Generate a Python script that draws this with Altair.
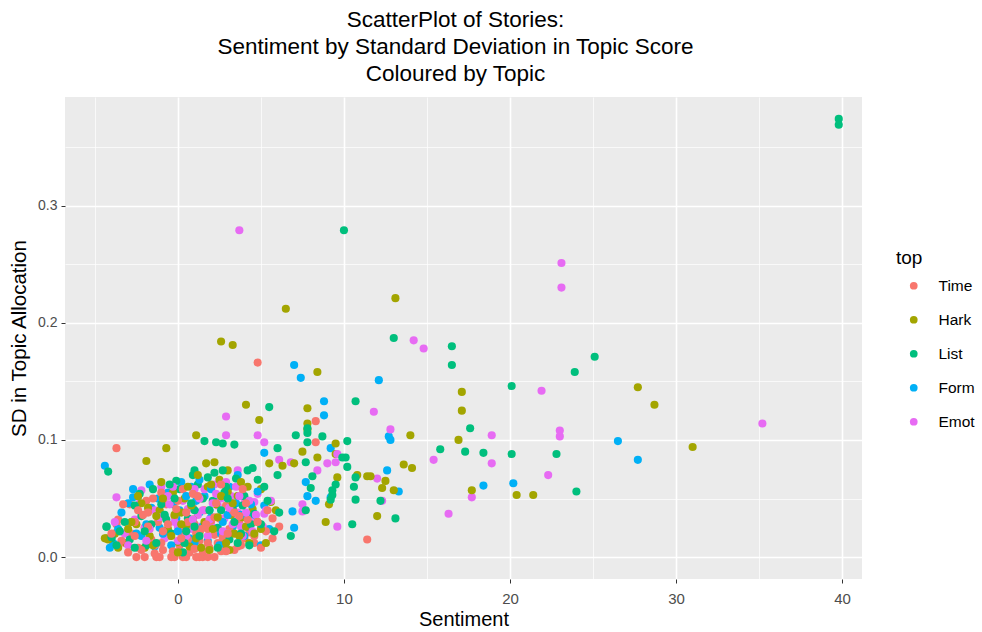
import altair as alt
import pandas as pd

# ---------------- data (Sentiment, SD in Topic Allocation) per topic ----------------
time_x = [4.8, 8.3, 8.3, -3.7, 11.4, -2.9, -1.9, -3.6, -3.7, 5.7, 6.1, 5.7,
          -2.5, -2.0, -1.3, -1.1, -0.4, -0.2, 0.3, 0.5, 1.1, 1.3, 1.5, 1.8, 2.2,
          -3.2, -2.8, -2.4, -2.0, -1.6, -1.2, -0.9, -0.5, -0.2, 0.1, 0.4, 0.7, 1.0, 1.3,
          1.6, 1.9, 2.2, 2.5, 2.8, 3.1, 3.4, 3.7, 4.0, 4.3, -1.8, -0.7, 0.2, 0.9, 1.5,
          2.4, 3.0, 3.6, -2.6, -1.4, 0.0, 1.1, 2.0, 2.9, 4.6, 5.1, -0.3, 0.6, 1.8, 2.7,
          -1.0, 0.3, 1.4, 3.3,
          -4.0, -3.4, -3.0, -2.6, -2.2, -1.8, -1.4, -1.0, -0.6, -0.2, 0.2, 0.6, 1.0, 1.4,
          1.8, 2.2, 2.6, 3.0, 3.4, 3.8, 4.2, 4.6, 5.0, 5.4, -3.3, -2.1, -0.9, 0.5, 1.7,
          2.9, 4.1, 5.3, -1.5, 0.9, 2.3, 3.7, -2.4, -0.1, 1.2, 2.6, 3.9, 4.8]
time_y = [0.166, 0.116, 0.098, 0.093, 0.015, 0.045, 0.048, 0.032, 0.028, 0.033, 0.026, 0.016,
          0.0, 0.0, 0.0, 0.0, 0.0, 0.0, 0.0, 0.0, 0.0, 0.0, 0.0, 0.0, 0.0,
          0.012, 0.020, 0.008, 0.025, 0.015, 0.030, 0.006, 0.018, 0.035, 0.010, 0.022, 0.004, 0.028, 0.014,
          0.040, 0.008, 0.019, 0.033, 0.011, 0.024, 0.006, 0.029, 0.016, 0.021, 0.038, 0.045, 0.027, 0.042, 0.005,
          0.012, 0.036, 0.009, 0.030, 0.010, 0.048, 0.020, 0.031, 0.044, 0.012, 0.026, 0.005, 0.015, 0.024, 0.017,
          0.055, 0.058, 0.050, 0.040,
          0.020, 0.014, 0.004, 0.018, 0.006, 0.026, 0.003, 0.012, 0.028, 0.004, 0.016, 0.030, 0.007, 0.024,
          0.012, 0.034, 0.005, 0.020, 0.038, 0.010, 0.032, 0.018, 0.008, 0.040, 0.045, 0.036, 0.022, 0.038, 0.028,
          0.005, 0.046, 0.022, 0.050, 0.054, 0.046, 0.035, 0.040, 0.041, 0.052, 0.062, 0.058, 0.030]

hark_x = [6.5, 2.6, 3.3, 8.4, 13.1, 4.1, 7.8, 4.9, 1.1, -0.7, -1.9, 7.8, 7.8, 9.5, 9.5,
          1.7, 2.2, 3.0, 5.5, 6.3, 7.0, 7.5, 8.4, 9.6, 10.8, 11.4, 9.1, 8.9, 12.0, 14.0,
          13.6, 14.1, 12.5, 12.3, 13.0, 11.6, 17.1, 17.1, 16.9, 17.7, 20.4, 21.4, 27.7, 28.7,
          31.0, -4.2, -4.4, -1.8,
          -4.3, -3.8, -3.1, -2.5, -1.7, -1.1, -0.6, 0.0, 0.4, 0.9, 1.3, 1.8, 2.3, 2.7, 3.2,
          3.6, 4.1, 4.5, 5.0, 5.6, -2.0, -0.3, 0.7, 1.6, 2.5, 3.4, 4.3, -1.3, 0.2, 1.1, 2.0,
          3.0, 3.9, 0.5, 2.9,
          -3.6, -2.8, -2.2, -1.5, -0.9, -0.4, 0.2, 0.8, 1.4, 2.1, 2.6, 3.1, 3.7, 4.2, 4.8,
          5.3, 5.9, -3.0, -1.0, 0.6, 1.9, 3.3, 4.6, -0.2, 1.2, 2.4, 3.8, 5.0, -2.4, 0.0]
hark_y = [0.212, 0.184, 0.181, 0.158, 0.221, 0.130, 0.127, 0.117, 0.104, 0.093, 0.082, 0.114, 0.109, 0.097, 0.088,
          0.080, 0.081, 0.074, 0.080, 0.078, 0.080, 0.090, 0.085, 0.068, 0.070, 0.069, 0.045, 0.030, 0.035, 0.104,
          0.079, 0.076, 0.065, 0.059, 0.057, 0.069, 0.141, 0.125, 0.100, 0.057, 0.053, 0.053, 0.145, 0.130,
          0.094, 0.015, 0.016, 0.042,
          0.016, 0.020, 0.012, 0.028, 0.018, 0.040, 0.024, 0.013, 0.050, 0.032, 0.021, 0.060, 0.045, 0.010, 0.036,
          0.052, 0.026, 0.041, 0.058, 0.047, 0.008, 0.055, 0.009, 0.030, 0.066, 0.020, 0.012, 0.035, 0.038, 0.016, 0.062,
          0.056, 0.034, 0.027, 0.012,
          0.008, 0.030, 0.046, 0.010, 0.050, 0.018, 0.028, 0.044, 0.008, 0.024, 0.052, 0.006, 0.018, 0.060, 0.030,
          0.012, 0.040, 0.024, 0.064, 0.060, 0.006, 0.046, 0.020, 0.036, 0.070, 0.034, 0.064, 0.024, 0.052, 0.004]

list_x = [39.8, 39.8, 10.0, 13.0, 16.5, 16.5, 20.1, 23.9, 25.1, 5.5, 10.7, 1.6, 2.3, 2.7, 3.4,
          6.0, 7.1, 7.8, 7.8, 8.7, 10.2, 10.1, 10.2, 7.8, 7.7, 9.9, 8.1, 8.0, 9.5, 9.3, 9.3, 9.2,
          10.6, 10.7, 12.2, 10.5, 13.1, 7.7, 6.8, 10.7, -4.2, -4.3, -4.0, 4.5, 1.0, 2.7, 6.0,
          15.8, 17.3, 18.4, 20.1, 22.8, 17.6, 24.0,
          -4.3, -4.0, -3.5, -2.9, -2.2, -1.6, -1.0, -0.4, 0.1, 0.6, 1.2, 1.7, 2.1, 2.6, 3.1,
          3.5, 4.0, 4.6, 5.2, 5.8, -1.9, -0.7, 0.4, 1.5, 2.4, 3.3, 4.4, -2.6, 0.9, 2.8, 3.8, 1.0, -0.1,
          -3.7, -3.2, -2.6, -2.0, -1.3, -0.8, -0.2, 0.3, 0.8, 1.3, 1.9, 2.4, 2.9, 3.4, 3.9,
          4.3, 4.8, 5.4, 6.1, -2.3, -0.5, 1.0, 2.2, 3.6, 5.0, -1.5, 0.5, 1.8, 3.0, 4.2]
list_y = [0.374, 0.369, 0.279, 0.187, 0.180, 0.164, 0.146, 0.158, 0.171, 0.128, 0.133, 0.099, 0.098, 0.097, 0.096,
          0.093, 0.104, 0.106, 0.098, 0.103, 0.099, 0.085, 0.077, 0.110, 0.081, 0.085, 0.069, 0.059, 0.062, 0.057, 0.053, 0.049,
          0.060, 0.049, 0.048, 0.028, 0.033, 0.040, 0.018, 0.068, 0.073, 0.026, 0.016, 0.076, 0.074, 0.074, 0.070,
          0.092, 0.090, 0.089, 0.088, 0.088, 0.110, 0.056,
          0.026, 0.017, 0.022, 0.015, 0.035, 0.028, 0.045, 0.020, 0.058, 0.033, 0.062, 0.026, 0.048, 0.040, 0.015,
          0.067, 0.052, 0.037, 0.060, 0.022, 0.010, 0.032, 0.012, 0.050, 0.025, 0.042, 0.028, 0.008, 0.070, 0.055, 0.020, 0.040, 0.065,
          0.010, 0.030, 0.044, 0.022, 0.012, 0.036, 0.050, 0.004, 0.046, 0.018, 0.040, 0.008, 0.060, 0.030, 0.044,
          0.010, 0.066, 0.048, 0.038, 0.054, 0.062, 0.026, 0.072, 0.012, 0.028, 0.058, 0.022, 0.068, 0.050, 0.074]

form_x = [7.0, 7.4, 12.1, 8.8, 8.8, 5.2, -4.4, -2.7, 12.7, 12.8, 12.6, 13.3, 9.2, 7.7, 9.2,
          7.8, 8.3, 7.0, 18.4, 20.2, 26.5, 27.7, 6.9,
          -3.9, -3.4, -2.8, -2.2, -1.6, -1.1, -0.6, -0.1, 0.3, 0.8, 1.3, 1.8, 2.3, 2.8, 3.3,
          3.9, 4.5, 5.2, -1.4, -0.3, 0.6, 1.6, 2.6, 3.6, -2.5, 0.1, 1.0, 2.0, 4.2, -0.8,
          -4.1, -3.6, -3.0, -2.4, -1.9, -1.2, -0.4, 0.2, 0.7, 1.1, 1.5, 2.0, 2.5, 3.0, 3.5,
          4.0, 4.8, 5.5, -2.7, -0.9, 0.5, 1.9, 3.1, 4.4, -1.7, 0.0, 1.3, 2.7, 3.8, 5.0]
form_y = [0.164, 0.153, 0.151, 0.133, 0.121, 0.089, 0.078, 0.051, 0.103, 0.100, 0.074, 0.056, 0.093, 0.064, 0.051,
          0.052, 0.048, 0.025, 0.061, 0.063, 0.099, 0.083, 0.039,
          0.012, 0.038, 0.030, 0.018, 0.042, 0.025, 0.055, 0.033, 0.020, 0.060, 0.038, 0.014, 0.047, 0.062, 0.026,
          0.052, 0.035, 0.044, 0.009, 0.045, 0.028, 0.052, 0.020, 0.070, 0.020, 0.040, 0.012, 0.034, 0.026, 0.035,
          0.008, 0.024, 0.046, 0.052, 0.028, 0.050, 0.010, 0.064, 0.016, 0.048, 0.026, 0.058, 0.010, 0.036, 0.046,
          0.018, 0.056, 0.024, 0.058, 0.020, 0.052, 0.040, 0.060, 0.045, 0.062, 0.022, 0.066, 0.030, 0.036, 0.010]

emot_x = [3.7, 23.1, 23.1, 14.2, 14.8, 11.8, 21.9, 35.2, 2.9, 2.9, 4.8, 5.2, 12.8, 12.0,
          6.1, 6.8, 8.4, 9.0, 9.5, 9.6, 3.6, -3.7, -2.2, 5.2, 9.6, 7.5, 7.5, 12.3, 15.4,
          18.9, 18.9, 23.0, 23.0, 22.3, 16.3, 17.7,
          -3.2, -2.6, -2.0, -1.4, -0.8, -0.2, 0.3, 0.8, 1.2, 1.6, 2.0, 2.4, 2.8, 3.2, 3.6,
          4.0, 4.4, 4.8, 5.3, -1.0, 0.0, 0.6, 1.4, 2.2, 3.0, 3.4, 3.8, 4.6, 1.8, 2.6, -0.5,
          -3.8, -3.0, -2.3, -1.7, -1.1, -0.6, 0.0, 0.5, 1.0, 1.5, 1.9, 2.3, 2.7, 3.1, 3.5,
          3.9, 4.3, 4.7, 5.1, 5.6, -1.9, -0.3, 0.9, 2.1, 2.9, 3.7, 4.5, 1.3, 3.3, 4.1]
emot_y = [0.279, 0.251, 0.230, 0.185, 0.178, 0.124, 0.142, 0.114, 0.120, 0.104, 0.104, 0.098, 0.109, 0.067,
          0.083, 0.081, 0.074, 0.080, 0.081, 0.088, 0.074, 0.051, 0.057, 0.037, 0.026, 0.045, 0.039, 0.048, 0.083,
          0.104, 0.080, 0.108, 0.103, 0.070, 0.037, 0.051,
          0.020, 0.032, 0.025, 0.040, 0.016, 0.030, 0.048, 0.024, 0.036, 0.058, 0.028, 0.044, 0.033, 0.052, 0.038,
          0.046, 0.030, 0.054, 0.040, 0.060, 0.014, 0.041, 0.026, 0.062, 0.020, 0.035, 0.026, 0.047, 0.018, 0.050, 0.045,
          0.030, 0.010, 0.046, 0.024, 0.034, 0.052, 0.026, 0.018, 0.058, 0.040, 0.032, 0.054, 0.022, 0.042, 0.060,
          0.018, 0.048, 0.036, 0.026, 0.048, 0.014, 0.060, 0.032, 0.046, 0.064, 0.052, 0.022, 0.050, 0.028, 0.038]

topics = ["Time", "Hark", "List", "Form", "Emot"]
colors = ["#F8766D", "#A3A500", "#00BF7D", "#00B0F6", "#E76BF3"]

# interleave topics so that overlap order is mixed (as in the original data order)
series = [(time_x, time_y), (hark_x, hark_y), (list_x, list_y), (form_x, form_y), (emot_x, emot_y)]
rows = []
longest = max(len(s[0]) for s in series)
for i in range(longest):
    for name, (xs, ys) in zip(topics, series):
        if i < len(xs):
            rows.append({"Sentiment": xs[i], "SD": ys[i], "top": name})
df = pd.DataFrame(rows)

FONT = "Liberation Sans"
x_ticks = [-5, 0, 5, 10, 15, 20, 25, 30, 35, 40]
y_ticks = [0.0, 0.05, 0.1, 0.15, 0.2, 0.25, 0.3, 0.35]
y_major = "abs(datum.value*10 - round(datum.value*10)) < 0.001"

x_axis = alt.Axis(
    values=x_ticks, title="Sentiment",
    labelExpr="datum.value % 10 === 0 ? datum.label : ''",
    gridColor="white",
    gridWidth={"condition": {"test": "datum.value % 10 === 0", "value": 1.6}, "value": 0.7},
    tickOpacity={"condition": {"test": "datum.value % 10 === 0", "value": 1}, "value": 0},
    tickColor="#333333", tickSize=4, tickWidth=1, domain=False,
    labelColor="#4D4D4D", labelFontSize=15, labelFont=FONT, labelPadding=8,
    titleFont=FONT, titleFontSize=20, titleFontWeight="normal", titleColor="black", titlePadding=3,
)
y_axis = alt.Axis(
    values=y_ticks, title="SD in Topic Allocation", format=".1f",
    labelExpr=y_major + " ? datum.label : ''",
    gridColor="white",
    gridWidth={"condition": {"test": y_major, "value": 1.6}, "value": 0.7},
    tickOpacity={"condition": {"test": y_major, "value": 1}, "value": 0},
    tickColor="#333333", tickSize=4, tickWidth=1, domain=False,
    labelColor="#4D4D4D", labelFontSize=14, labelFont=FONT, labelPadding=4,
    titleFont=FONT, titleFontSize=20.5, titleFontWeight="normal", titleColor="black", titlePadding=8,
)

chart = alt.Chart(df).mark_circle(size=66, opacity=1).encode(
    x=alt.X("Sentiment:Q", scale=alt.Scale(domain=[-6.8, 41.2], nice=False, zero=False), axis=x_axis),
    y=alt.Y("SD:Q", scale=alt.Scale(domain=[-0.0187, 0.3927], nice=False, zero=False), axis=y_axis),
    color=alt.Color("top:N", scale=alt.Scale(domain=topics, range=colors),
                    legend=alt.Legend(title="top", orient="none", legendX=831, legendY=152,
                                      titleFont=FONT, titleFontSize=19, titleFontWeight="normal",
                                      titleColor="black", titlePadding=10,
                                      labelFont=FONT, labelFontSize=15.5, labelColor="black",
                                      symbolType="circle", symbolSize=60, symbolStrokeWidth=0,
                                      symbolOffset=10, labelOffset=17, rowPadding=17)),
).properties(
    width=797, height=482,
    title=alt.Title(["ScatterPlot of Stories:", "Sentiment by Standard Deviation in Topic Score", "Coloured by Topic"],
                    font=FONT, fontSize=22.5, fontWeight="normal", color="black",
                    anchor="middle", lineHeight=27, offset=12, dx=-8),
    autosize=alt.AutoSizeParams(type="none"),
    padding={"left": 65, "top": 97, "right": 120, "bottom": 53},
    background="white",
).configure_view(
    fill="#EBEBEB", stroke=None,
)

chart.save("out.html", embed_options={"renderer": "svg", "actions": False})
